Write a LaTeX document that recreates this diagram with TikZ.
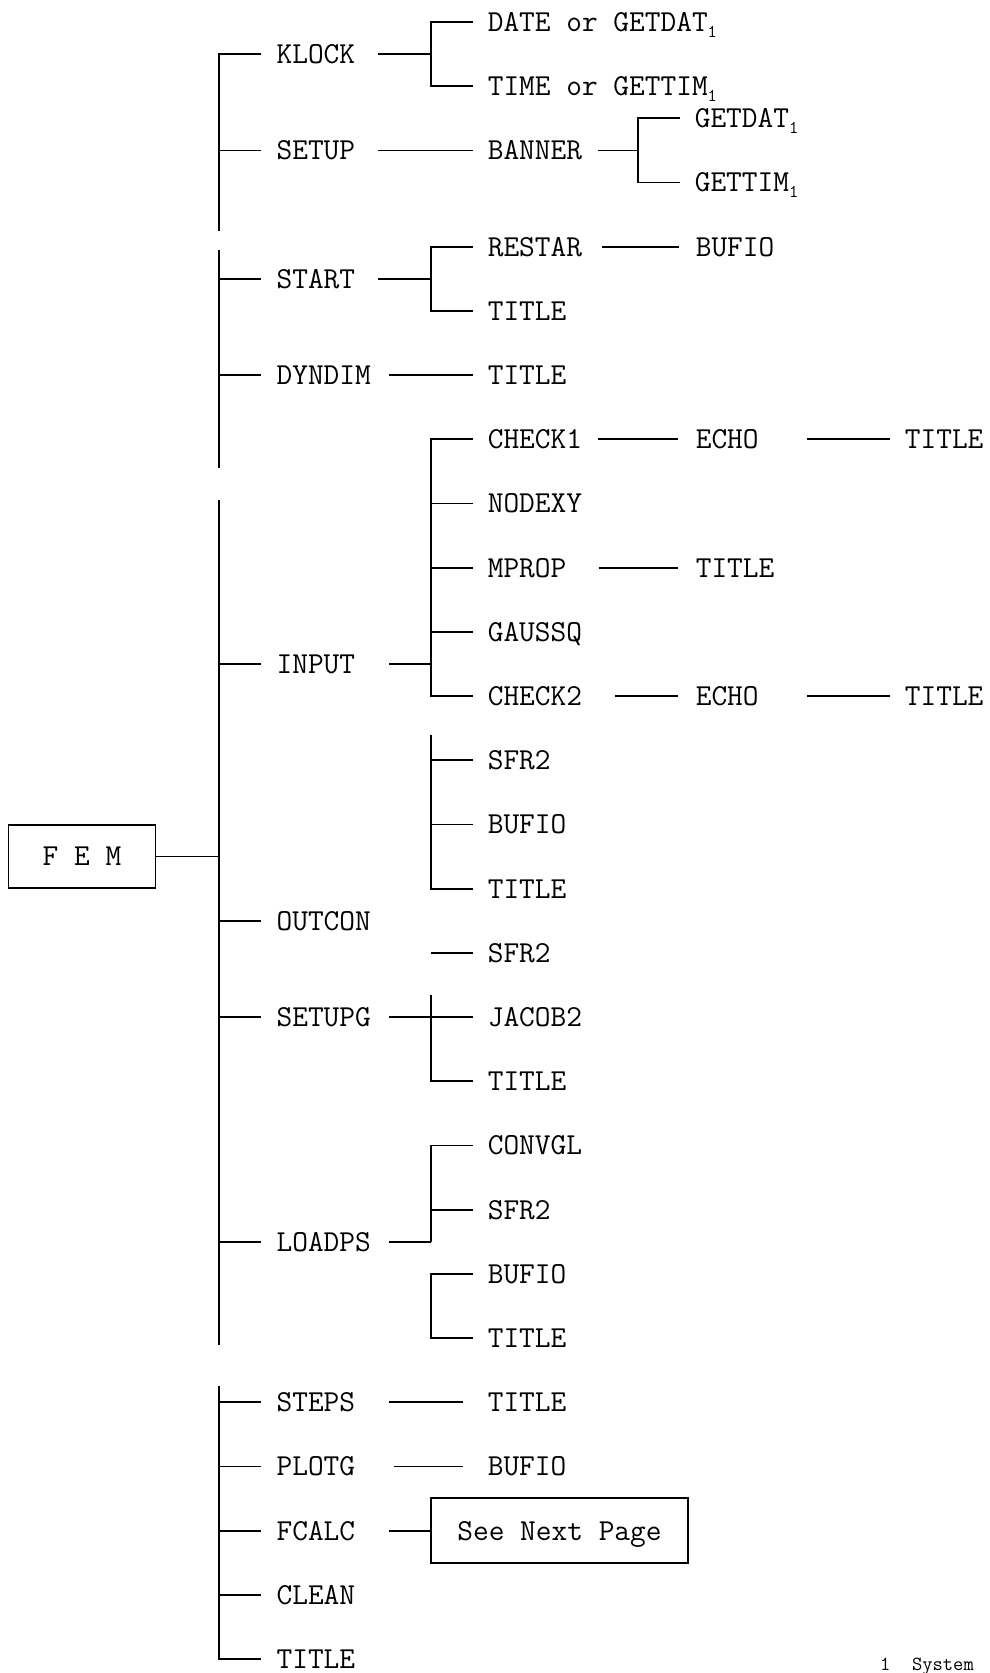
\documentclass[tikz,border=0pt]{standalone}
\usetikzlibrary{calc}
\newcommand{\subone}{\raisebox{-6pt}{\fontsize{18}{18}\selectfont 1}}
\begin{document}
\begin{tikzpicture}[x=1pt,y=-32.1pt,
  conn/.style={line width=1.7pt},
  lbl/.style={anchor=west,inner xsep=15pt,inner ysep=0pt,text height=18.6pt,text depth=0pt,font=\ttfamily\fontsize{30.5}{36}\selectfont},
  boxed/.style={draw,line width=1.7pt,inner sep=0pt,text height=18.6pt,text depth=0pt,font=\ttfamily\fontsize{30.5}{36}\selectfont}]
\clip (0,-0.6854) rectangle (989,51.433);
\fill[white] (0,-0.6854) rectangle (989,51.433);
% main bus x
\coordinate (mx) at (218.7,0);
% level 1
\node[lbl] (klock) at (261.4,1) {KLOCK};
\node[lbl] (setup) at (261.4,4) {SETUP};
\node[lbl] (start) at (261.4,8) {START};
\node[lbl] (dyndim) at (261.4,11) {DYNDIM};
\node[lbl] (input) at (261.4,20) {INPUT};
\node[lbl] (outcon) at (261.4,28) {OUTCON};
\node[lbl] (setupg) at (261.4,31) {SETUPG};
\node[lbl] (loadps) at (261.4,38) {LOADPS};
\node[lbl] (steps) at (261.4,43) {STEPS};
\node[lbl] (plotg) at (261.4,45) {PLOTG};
\node[lbl] (fcalc) at (261.4,47) {FCALC};
\node[lbl] (clean) at (261.4,49) {CLEAN};
\node[lbl] (title) at (261.4,51) {TITLE};
% FEM
\node[boxed,minimum width=147pt,minimum height=63pt] (fem) at (82,26) {F E M\hspace{12pt}};
\draw[conn] (fem.east) -- (mx |- fem.east);
% main vertical
\draw[conn] (klock.west) -- (mx |- klock.west) -- (218.7,6.5);
\draw[conn] (218.7,7.1) -- (218.7,13.9);
\draw[conn] (218.7,14.9) -- (218.7,41.2);
\draw[conn] (218.7,42.5) -- (mx |- title.west) -- (title.west);
\foreach \n in {setup,start,dyndim,input,outcon,setupg,loadps,steps,plotg,fcalc,clean}
  \draw[conn] (mx |- \n.west) -- (\n.west);
% KLOCK
\coordinate (kb) at (431,1);
\node[lbl] (date) at (472.6,0) {DATE or GETDAT\subone};
\node[lbl] (time) at (472.6,2) {TIME or GETTIM\subone};
\draw[conn] ([xshift=8pt]klock.east) -- (kb);
\draw[conn] (date.west) -- (kb |- date.west) -- (kb |- time.west) -- (time.west);
% SETUP
\node[lbl] (banner) at (472.6,4) {BANNER};
\draw[conn] ([xshift=8pt]setup.east) -- (banner.west);
\coordinate (bb) at (638,4);
\node[lbl] (getdat) at (679.6,3) {GETDAT\subone};
\node[lbl] (gettim) at (679.6,5) {GETTIM\subone};
\draw[conn] ([xshift=1pt]banner.east) -- (bb);
\draw[conn] (getdat.west) -- (bb |- getdat.west) -- (bb |- gettim.west) -- (gettim.west);
% START
\coordinate (sb) at (431,8);
\node[lbl] (restar) at (472.6,7) {RESTAR};
\node[lbl] (title1) at (472.6,9) {TITLE};
\draw[conn] ([xshift=8pt]start.east) -- (sb);
\draw[conn] (restar.west) -- (sb |- restar.west) -- (sb |- title1.west) -- (title1.west);
\node[lbl] (bufio1) at (680.6,7) {BUFIO};
\draw[conn] ([xshift=5pt]restar.east) -- ([xshift=-2pt]bufio1.west);
% DYNDIM
\node[lbl] (title2) at (472.6,11) {TITLE};
\draw[conn] ([xshift=3pt]dyndim.east) -- (title2.west);
% INPUT
\coordinate (ib) at (431,20);
\node[lbl] (check1) at (472.6,13) {CHECK1};
\node[lbl] (nodexy) at (472.6,15) {NODEXY};
\node[lbl] (mprop) at (472.6,17) {MPROP};
\node[lbl] (gaussq) at (472.6,19) {GAUSSQ};
\node[lbl] (check2) at (472.6,21) {CHECK2};
\node[lbl] (sfr2a) at (472.6,23) {SFR2};
\node[lbl] (bufio2) at (472.6,25) {BUFIO};
\node[lbl] (title3) at (472.6,27) {TITLE};
\draw[conn] ([xshift=19pt]input.east) -- (ib);
\draw[conn] (check1.west) -- (ib |- check1.west) -- (ib |- check2.west) -- (check2.west);
\foreach \n in {nodexy,mprop,gaussq}
  \draw[conn] (ib |- \n.west) -- (\n.west);
\draw[conn] (431,22.2) -- (ib |- title3.west) -- (title3.west);
\foreach \n in {sfr2a,bufio2}
  \draw[conn] (ib |- \n.west) -- (\n.west);
\node[lbl] (echo1) at (680.6,13) {ECHO};
\node[lbl] (title4) at (889.7,13) {TITLE};
\node[lbl] (title6) at (680.6,17) {TITLE};
\node[lbl] (echo2) at (680.6,21) {ECHO};
\node[lbl] (title5) at (889.7,21) {TITLE};
\draw[conn] ([xshift=1pt]check1.east) -- ([xshift=-3pt]echo1.west);
\draw[conn] ([xshift=33pt]echo1.east) -- (title4.west);
\draw[conn] ([xshift=17pt]mprop.east) -- ([xshift=-3pt]title6.west);
\draw[conn] ([xshift=18pt]check2.east) -- ([xshift=-3pt]echo2.west);
\draw[conn] ([xshift=33pt]echo2.east) -- (title5.west);
% SETUPG
\coordinate (gb) at (431,31);
\node[lbl] (sfr2b) at (472.6,29) {SFR2};
\node[lbl] (jacob) at (472.6,31) {JACOB2};
\node[lbl] (title7) at (472.6,33) {TITLE};
\draw[conn] (gb |- sfr2b.west) -- (sfr2b.west);
\draw[conn] ([xshift=3pt]setupg.east) -- (jacob.west);
\draw[conn] (431,30.3) -- (gb |- title7.west) -- (title7.west);
% LOADPS
\coordinate (lb) at (431,38);
\node[lbl] (convgl) at (472.6,35) {CONVGL};
\node[lbl] (sfr2c) at (472.6,37) {SFR2};
\node[lbl] (bufio3) at (472.6,39) {BUFIO};
\node[lbl] (title8) at (472.6,41) {TITLE};
\draw[conn] ([xshift=3pt]loadps.east) -- (lb);
\draw[conn] (convgl.west) -- (lb |- convgl.west) -- (lb);
\draw[conn] (lb |- sfr2c.west) -- (sfr2c.west);
\draw[conn] (bufio3.west) -- (lb |- bufio3.west) -- (lb |- title8.west) -- (title8.west);
% STEPS, PLOTG, FCALC
\node[lbl] (title9) at (472.6,43) {TITLE};
\draw[conn] ([xshift=19pt]steps.east) -- ([xshift=-10pt]title9.west);
\node[lbl] (bufio4) at (472.6,45) {BUFIO};
\draw[conn] ([xshift=24pt]plotg.east) -- ([xshift=-10pt]bufio4.west);
\node[boxed,minimum width=257pt,minimum height=65pt] (next) at (559.5,47) {See Next Page};
\draw[conn] ([xshift=19pt]fcalc.east) -- (next.west);
% footnote
\node[anchor=base west,inner sep=0pt,font=\ttfamily\fontsize{20}{22}\selectfont] (fn) at (880,51.37) {1\hspace{21.5pt}System};
\end{tikzpicture}
\end{document}
